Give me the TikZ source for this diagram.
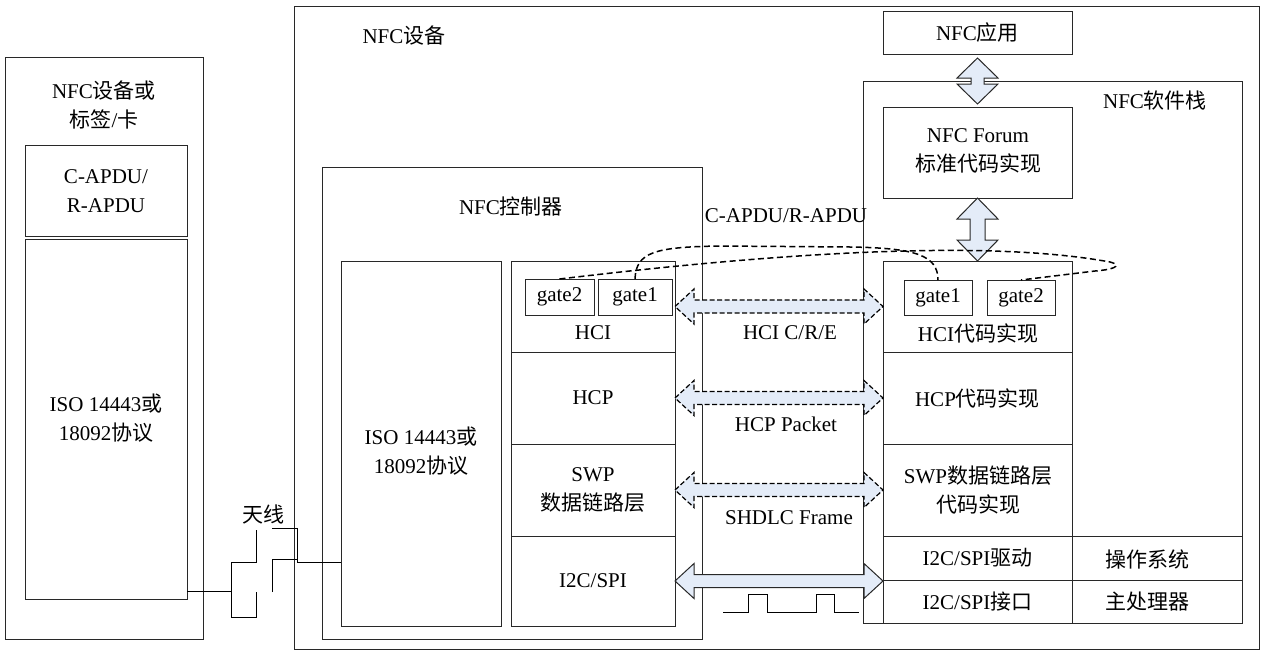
\documentclass[tikz,border=0pt]{standalone}
\usepackage{fontspec}
\setmainfont{Liberation Serif}
\newfontfamily\cjk{Noto Sans CJK SC}
\usetikzlibrary{fit,calc}
\newcommand\zh[1]{{\cjk #1}}
\definecolor{arrowfill}{RGB}{228,236,248}
\definecolor{linegray}{RGB}{40,40,40}
\newcommand\boxnode[5]{\node[box, fit={(#2,#3) (#4,#5)}] (#1) {};}
% horizontal double arrow: style, left point, right point
\newcommand\hdarrow[3]{%
  \draw[#1] let \p1=(#2), \p2=(#3) in
    (\x1,\y1) -- (\x1+19pt,\y1+17.5pt) -- (\x1+19pt,\y1+6.5pt) -- (\x2-19pt,\y1+6.5pt)
    -- (\x2-19pt,\y1+17.5pt) -- (\x2,\y1) -- (\x2-19pt,\y1-17.5pt) -- (\x2-19pt,\y1-6.5pt)
    -- (\x1+19pt,\y1-6.5pt) -- (\x1+19pt,\y1-17.5pt) -- cycle;}
% vertical double arrow: style, top, bottom, head half width, shaft half width, head length
\newcommand\vdarrow[6]{%
  \draw[#1] let \p1=(#2), \p2=(#3) in
    (\x1,\y1) -- (\x1+#4pt,\y1-#6pt) -- (\x1+#5pt,\y1-#6pt) -- (\x1+#5pt,\y2+#6pt)
    -- (\x1+#4pt,\y2+#6pt) -- (\x1,\y2) -- (\x1-#4pt,\y2+#6pt) -- (\x1-#5pt,\y2+#6pt)
    -- (\x1-#5pt,\y1-#6pt) -- (\x1-#4pt,\y1-#6pt) -- cycle;}
\begin{document}
\begin{tikzpicture}[x=1pt,y=-1pt,
  box/.style={draw=linegray, line width=1pt, inner sep=0pt, outer sep=0pt},
  txt/.style={inner sep=0pt, align=center, font=\fontsize{21}{28.5}\selectfont},
  wire/.style={draw=black, line width=1pt},
  fatarrow/.style={draw=linegray, line width=1pt, fill=arrowfill, line join=miter},
  dasharrow/.style={fatarrow, draw=black, line width=1.2pt, dash pattern=on 5pt off 2.5pt},
  dcurve/.style={draw=black, line width=1.5pt, dash pattern=on 6pt off 3.5pt},
]
\useasboundingbox (0,0) rectangle (1263,653);

% ---- boxes ----
\boxnode{dev}{5}{57}{203}{639}
\boxnode{apdu}{25}{145}{187}{236}
\boxnode{isoL}{25}{239}{187}{599}
\boxnode{main}{294}{6}{1259}{649}
\boxnode{ctrl}{322}{167}{702}{639}
\boxnode{isoR}{341}{261}{501}{626}
\boxnode{hci}{511}{261}{675}{352}
\boxnode{hcp}{511}{352}{675}{444}
\boxnode{swp}{511}{444}{675}{536}
\boxnode{i2c}{511}{536}{675}{626}
\boxnode{lgB}{525}{279}{594}{315}
\boxnode{lgA}{598}{279}{672}{315}
\boxnode{app}{883}{11}{1072}{54}
\boxnode{stack}{863}{81}{1242}{623}
\boxnode{forum}{883}{107}{1072}{198}
\boxnode{rhci}{883}{261}{1072}{352}
\boxnode{rhcp}{883}{352}{1072}{444}
\boxnode{rswp}{883}{444}{1072}{536}
\boxnode{rdrv}{883}{536}{1072}{580}
\boxnode{rifc}{883}{580}{1072}{623}
\boxnode{os}{1072}{536}{1242}{580}
\boxnode{cpu}{1072}{580}{1242}{623}
\boxnode{rgA}{904}{280}{972}{315}
\boxnode{rgB}{987}{280}{1055}{315}

% ---- texts ----
\node[txt] (tdev) at (104,105) {NFC\zh{设备或}\\\zh{标签}/\zh{卡}};
\node[txt] (tapdu) at (106,191) {C-APDU/\\R-APDU};
\node[txt] (tisoL) at (106,418) {ISO 14443\zh{或}\\18092\zh{协议}};
\node[txt] (tant) at (263,514) {\zh{天线}};
\node[txt] (tmain) at (404,36) {NFC\zh{设备}};
\node[txt] (tctrl) at (511,207) {NFC\zh{控制器}};
\node[txt] (tisoR) at (421,451) {ISO 14443\zh{或}\\18092\zh{协议}};
\node[txt] (tlgB) at (lgB) {gate2};
\node[txt] (tlgA) at (lgA) {gate1};
\node[txt] (thci) at (593,333) {HCI};
\node[txt] (thcp) at (hcp) {HCP};
\node[txt] (tswp) at (593,490) {SWP\\\zh{数据链路层}};
\node[txt] (ti2c) at (593,581) {I2C/SPI};
\node[txt] (tapp) at (app) {NFC\zh{应用}};
\node[txt] (tstack) at (1155,101) {NFC\zh{软件栈}};
\node[txt] (tforum) at (978,151) {NFC Forum\\\zh{标准代码实现}};
\node[txt] (trgA) at (rgA) {gate1};
\node[txt] (trgB) at (rgB) {gate2};
\node[txt] (trhci) at (978,333) {HCI\zh{代码实现}};
\node[txt] (trhcp) at (rhcp) {HCP\zh{代码实现}};
\node[txt] (trswp) at (978,490) {SWP\zh{数据链路层}\\\zh{代码实现}};
\node[txt] (trdrv) at (rdrv) {I2C/SPI\zh{驱动}};
\node[txt] (trifc) at (rifc) {I2C/SPI\zh{接口}};
\node[txt] (tos) at (1147,559) {\zh{操作系统}};
\node[txt] (tcpu) at (1147,602) {\zh{主处理器}};
\node[txt] (lapdu) at (786,216) {C-APDU/R-APDU};
\node[txt] (lhci) at (790,333) {HCI C/R/E};
\node[txt] (lhcp) at (786,424) {HCP Packet};
\node[txt] (lshdlc) at (789,518) {SHDLC Frame};

% ---- antenna ----
\coordinate (yA) at (0,591);
\coordinate (yB) at (0,562);
\draw[wire] (isoL.east |- yA) -- (231,591);
\draw[wire] (256,530) -- (256,562) -- (231,562) -- (231,617) -- (256,617) -- (256,592);
\draw[wire] (272,592) -- (272,559) -- (297,559);
\draw[wire] (272,528) -- (297,528) -- (297,562) -- (isoR.west |- yB);

% ---- signal ----
\draw[wire] (723,612) -- (748,612) -- (748,594) -- (767,594) -- (767,612) -- (816,612)
  -- (816,594) -- (834,594) -- (834,612) -- (859,612);

% ---- arrows ----
\hdarrow{dasharrow}{hci.east}{rhci.west}
\hdarrow{dasharrow}{hcp.east}{rhcp.west}
\hdarrow{dasharrow}{swp.east}{rswp.west}
\hdarrow{fatarrow}{i2c.east}{rdrv.south west}
\vdarrow{fatarrow}{$(app.south)+(0,4)$}{$(forum.north)+(0,-3)$}{20.5}{6.5}{20}
\vdarrow{fatarrow}{forum.south}{rhci.north}{20.5}{7.5}{21}

% ---- gate links ----
\draw[dcurve] (lgA.north) .. controls (636,252) and (655,247) .. (720,246) -- (850,247)
  .. controls (915,248) and (938,255) .. (rgA.north);
\draw[dcurve] (lgB.north) .. controls (760,255) and (980,238) .. (1110,262)
  .. controls (1125,266) and (1110,270) .. (1095,271) -- (rgB.north);
\end{tikzpicture}
\end{document}
